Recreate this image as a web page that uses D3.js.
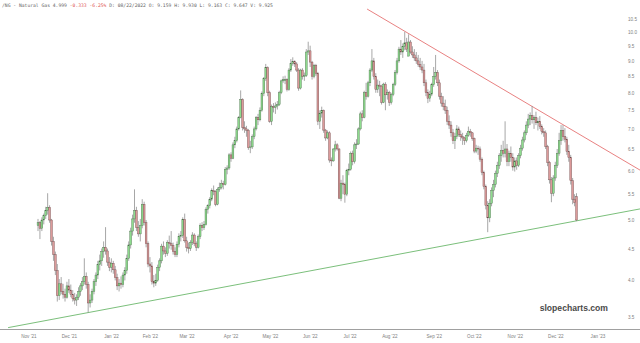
<!DOCTYPE html>
<html>
<head>
<meta charset="utf-8">
<script src="https://cdn.jsdelivr.net/npm/d3@7"></script>
<style>
  html, body { margin: 0; padding: 0; background: #fff; }
  svg { display: block; }
</style>
</head>
<body>
<script>
// daily OHLC, /NG continuous, mid Nov 2021 .. Dec 2022 (one row per month)
const open = [
  4.90,4.95,4.85,5.00,5.08,5.18,5.24,5.00,4.62,4.40,4.15,
  3.78,3.95,3.84,3.80,3.76,3.92,3.86,3.80,3.74,3.72,3.76,3.84,3.92,3.98,4.06,3.94,3.68,3.72,3.84,3.98,4.08,4.24,
  4.30,4.45,4.52,4.46,4.28,4.20,4.26,4.16,4.04,3.92,3.96,3.94,4.08,4.15,4.34,4.56,4.80,5.02,5.18,4.86,
  4.75,4.90,5.30,4.95,4.58,4.25,4.22,3.98,3.96,4.00,4.20,4.30,4.54,4.46,4.42,4.60,4.58,4.55,4.45,
  4.40,4.57,4.71,4.72,5.01,4.63,4.52,4.50,4.60,4.73,4.58,4.52,4.70,4.90,4.86,4.92,5.20,5.27,5.40,5.57,5.55,5.30,5.60,
  5.64,5.72,5.70,6.03,6.06,6.36,6.28,6.60,6.70,7.00,7.30,7.80,7.04,7.00,6.96,6.53,6.55,6.80,7.00,7.30,
  7.24,7.50,7.98,8.43,8.78,8.00,7.20,7.60,7.58,7.62,7.66,8.00,8.36,8.40,8.40,8.10,8.70,8.92,8.97,8.90,8.70,
  8.14,8.70,8.50,8.52,9.30,9.34,8.96,8.50,8.85,8.60,7.20,7.42,7.50,6.97,6.77,6.90,6.24,6.22,6.50,6.60,6.50,
  5.42,5.73,5.70,5.50,6.00,6.03,6.40,6.20,6.60,6.62,7.00,7.40,7.30,8.00,7.90,8.30,8.70,9.00,8.50,8.10,
  8.23,8.20,7.72,8.26,7.94,8.00,7.72,7.95,8.25,8.62,9.00,9.40,9.30,9.50,9.62,9.16,9.65,9.30,9.20,9.10,9.00,8.88,8.80,
  8.70,8.30,8.00,7.84,7.96,8.24,8.50,8.62,8.30,7.90,7.70,7.60,7.50,7.20,7.10,6.90,6.70,6.80,7.00,6.86,6.80,
  6.77,6.70,6.84,6.94,6.90,6.75,6.45,6.52,6.50,6.26,5.96,5.66,5.28,5.04,5.32,5.58,5.70,5.94,6.12,6.34,6.46,
  6.40,6.50,6.20,6.40,6.30,6.08,6.22,6.12,6.34,6.52,6.72,6.90,7.10,7.26,7.36,7.24,7.30,7.16,7.20,7.06,6.94,
  6.90,6.56,6.18,5.80,5.52,5.84,6.12,6.40,6.70,6.96,6.80,6.74,6.44,6.30,5.78,5.40,5.45
];
const high = [
  5.02,4.98,5.05,5.12,5.25,5.52,5.28,5.02,4.70,4.45,4.25,
  4.02,4.05,3.95,3.88,3.98,4.02,3.94,3.86,3.82,3.80,3.90,3.96,4.05,4.34,4.12,3.98,3.80,3.88,4.02,4.12,4.30,4.40,
  4.50,4.62,4.87,4.50,4.36,4.34,4.30,4.22,4.10,4.02,4.06,4.12,4.20,4.40,4.62,4.86,5.10,5.60,5.25,4.98,
  5.02,5.40,5.35,5.00,4.62,4.36,4.28,4.08,4.10,4.24,4.34,4.58,4.62,4.52,4.64,4.72,4.80,4.60,4.52,
  4.62,4.76,4.80,5.05,5.12,4.70,4.60,4.64,4.78,4.76,4.62,4.74,4.94,4.96,4.98,5.24,5.30,5.44,5.62,5.68,5.58,5.64,5.74,
  5.80,5.78,6.08,6.12,6.40,6.42,6.66,6.80,7.06,7.34,8.07,7.84,7.20,7.08,7.00,6.70,6.86,7.06,7.34,7.40,
  7.58,8.04,8.48,8.90,8.82,8.06,7.66,7.70,7.72,7.76,8.06,8.40,8.50,8.52,8.44,8.76,9.06,9.12,9.02,8.96,8.76,
  8.74,8.76,8.62,9.40,9.66,9.52,9.00,8.90,8.90,8.64,7.50,7.60,7.52,7.00,6.96,6.94,6.30,6.52,6.70,6.64,6.52,
  5.80,5.90,5.74,6.04,6.16,6.44,6.46,6.66,6.74,7.04,7.46,7.50,8.06,8.30,8.36,8.76,9.40,9.10,8.60,8.40,
  8.36,8.24,8.30,8.32,8.10,8.06,8.00,8.30,8.70,9.10,9.48,9.72,9.60,10.02,9.80,9.93,9.72,9.50,9.40,9.30,9.20,9.10,9.00,
  8.90,8.40,8.10,8.06,8.30,8.80,9.20,8.70,8.40,8.00,7.90,7.80,7.60,7.36,7.20,7.00,6.90,7.10,7.06,6.96,6.90,
  6.80,6.90,7.06,7.00,6.92,6.78,6.60,6.58,6.56,6.30,6.00,5.70,5.36,5.40,5.64,5.80,6.00,6.20,6.40,6.60,6.70,
  7.20,6.62,6.46,6.56,6.40,6.30,6.30,6.40,6.60,6.80,6.96,7.20,7.40,7.44,7.62,7.36,7.46,7.30,7.34,7.12,7.02,
  6.96,6.60,6.22,5.86,5.90,6.20,6.50,6.90,7.10,7.10,7.02,6.80,6.60,6.36,5.84,5.50,5.52
];
const low = [
  4.80,4.66,4.80,4.92,5.02,5.10,4.95,4.55,4.30,4.08,3.70,
  3.72,3.80,3.74,3.70,3.74,3.82,3.76,3.70,3.66,3.64,3.72,3.78,3.86,3.94,3.88,3.55,3.62,3.68,3.80,3.92,4.02,4.15,
  4.22,4.35,4.40,4.22,4.14,4.12,4.10,4.00,3.86,3.84,3.88,3.90,4.00,4.10,4.30,4.50,4.72,4.95,4.80,4.70,
  4.62,4.85,4.90,4.52,4.20,4.12,3.94,3.90,3.92,3.98,4.14,4.26,4.40,4.36,4.38,4.50,4.48,4.40,4.36,
  4.36,4.52,4.62,4.68,4.60,4.45,4.42,4.46,4.56,4.54,4.46,4.50,4.66,4.80,4.82,4.90,5.12,5.22,5.36,5.48,5.26,5.28,5.55,
  5.60,5.60,5.68,5.92,6.02,6.20,6.26,6.52,6.66,6.96,7.28,6.96,6.90,6.80,6.48,6.40,6.50,6.74,6.96,7.10,
  7.20,7.46,7.90,8.36,7.90,7.16,7.10,7.44,7.40,7.52,7.62,7.96,8.30,8.26,8.04,8.06,8.64,8.84,8.80,8.64,8.06,
  8.10,8.40,8.36,8.48,9.20,8.80,8.40,8.44,8.52,7.10,7.00,7.30,6.90,6.70,6.74,6.18,6.10,6.20,6.44,6.46,5.40,
  5.36,5.50,5.33,5.46,5.90,6.00,6.12,6.16,6.50,6.60,6.96,7.20,7.28,7.80,7.86,8.20,8.64,8.40,8.00,8.00,
  7.90,7.66,7.70,7.50,7.80,7.62,7.66,7.90,8.20,8.56,8.94,9.20,9.10,9.36,9.30,9.16,9.24,9.10,9.00,8.90,8.80,8.70,8.60,
  8.20,7.90,7.70,7.74,7.90,8.18,8.40,8.20,7.80,7.60,7.50,7.40,7.10,7.00,6.80,6.62,6.50,6.74,6.80,6.70,6.60,
  6.60,6.66,6.80,6.80,6.70,6.40,6.40,6.36,6.20,5.90,5.60,5.20,4.78,4.96,5.26,5.44,5.64,5.86,6.04,6.20,6.30,
  6.30,6.10,6.10,6.20,6.00,5.98,6.02,6.08,6.28,6.46,6.66,6.84,7.02,7.10,7.14,7.00,7.10,6.96,7.00,6.86,6.80,
  6.50,6.10,5.72,5.34,5.46,5.78,6.06,6.34,6.60,6.70,6.66,6.36,6.20,5.70,5.30,5.26,4.98
];
const close = [
  4.95,4.85,5.00,5.08,5.18,5.24,5.00,4.62,4.40,4.15,3.78,
  3.95,3.84,3.80,3.76,3.92,3.86,3.80,3.74,3.72,3.76,3.84,3.92,3.98,4.06,3.94,3.68,3.72,3.84,3.98,4.08,4.24,4.30,
  4.45,4.52,4.46,4.28,4.20,4.26,4.16,4.04,3.92,3.96,3.94,4.08,4.15,4.34,4.56,4.80,5.02,5.18,4.86,4.75,
  4.90,5.30,4.95,4.58,4.25,4.22,3.98,3.96,4.00,4.20,4.30,4.54,4.46,4.42,4.60,4.58,4.55,4.45,4.40,
  4.57,4.71,4.72,5.01,4.63,4.52,4.50,4.60,4.73,4.58,4.52,4.70,4.90,4.86,4.92,5.20,5.27,5.40,5.57,5.55,5.30,5.60,5.64,
  5.72,5.70,6.03,6.06,6.36,6.28,6.60,6.70,7.00,7.30,7.80,7.04,7.00,6.96,6.53,6.55,6.80,7.00,7.30,7.24,
  7.50,7.98,8.43,8.78,8.00,7.20,7.60,7.58,7.62,7.66,8.00,8.36,8.40,8.40,8.10,8.70,8.92,8.97,8.90,8.70,8.14,
  8.70,8.50,8.52,9.30,9.34,8.96,8.50,8.85,8.60,7.20,7.42,7.50,6.97,6.77,6.90,6.24,6.22,6.50,6.60,6.50,5.42,
  5.73,5.70,5.50,6.00,6.03,6.40,6.20,6.60,6.62,7.00,7.40,7.30,8.00,7.90,8.30,8.70,9.00,8.50,8.10,8.23,
  8.20,7.72,8.26,7.94,8.00,7.72,7.95,8.25,8.62,9.00,9.40,9.30,9.50,9.62,9.40,9.65,9.30,9.20,9.10,9.00,8.88,8.80,8.70,
  8.30,8.00,7.84,7.96,8.24,8.50,8.62,8.30,7.90,7.70,7.60,7.50,7.20,7.10,6.90,6.70,6.80,7.00,6.86,6.80,6.77,
  6.70,6.84,6.94,6.90,6.75,6.45,6.52,6.50,6.26,5.96,5.66,5.28,5.04,5.32,5.58,5.70,5.94,6.12,6.34,6.46,6.40,
  6.50,6.20,6.40,6.30,6.08,6.22,6.12,6.34,6.52,6.72,6.90,7.10,7.26,7.36,7.24,7.30,7.16,7.20,7.06,6.94,6.90,
  6.56,6.18,5.80,5.52,5.84,6.12,6.40,6.70,6.96,6.80,6.74,6.44,6.30,5.78,5.40,5.33,5.00
];

// x axis: bar index of the first session of each month
const monthBar = [-10, 11, 33, 53, 72, 95, 115, 136, 157, 177, 200, 221, 242, 263, 285];
const monthLabels = ["Nov '21", "Dec '21", "Jan '22", "Feb '22", "Mar '22", "Apr '22", "May '22", "Jun '22",
                     "Jul '22", "Aug '22", "Sep '22", "Oct '22", "Nov '22", "Dec '22", "Jan '23"];
const priceTicks = [3.5, 4.0, 4.5, 5.0, 5.5, 6.0, 6.5, 7.0, 7.5, 8.0, 8.5, 9.0, 9.5, 10.0, 10.5];

// trend lines as [bar index, price]
const resistance = [[170.5, 10.9], [312, 6.01]];
const support = [[-15.5, 3.36], [312, 5.21]];

const title = { name: '/NG - Natural Gas', last: '4.999', change: '-0.333  -6.25%',
  info: 'D: 08/22/2022  O: 9.159  H: 9.930  L: 9.163  C: 9.647  V: 9.925' };

const width = 640, height = 343;
const svg = d3.select('body').append('svg').attr('width', width).attr('height', height);

const x = d3.scaleLinear().domain([0, close.length - 1]).range([38, 576.5]);
const y = d3.scaleLog().domain([3.343, 11.27]).range([329, 0]);

const bars = close.map((c, i) => ({ i, o: open[i], h: high[i], l: low[i], c }));

// right price axis
const yAxis = svg.append('g').attr('transform', 'translate(627,0)')
  .call(d3.axisRight(y).tickValues(priceTicks).tickFormat(d3.format('.1f')).tickSize(0).tickPadding(1));
yAxis.select('.domain').remove();
yAxis.selectAll('text').style('font', '4.6px "Liberation Sans", Arial, sans-serif').attr('fill', '#808080');

// bottom time axis
svg.append('line').attr('x1', 0).attr('x2', width).attr('y1', 329.5).attr('y2', 329.5)
  .attr('stroke', '#a0a0a0').attr('stroke-width', 1);
const xAxis = svg.append('g').attr('transform', 'translate(0,329.5)')
  .call(d3.axisBottom(x).tickValues(monthBar).tickFormat((d, i) => monthLabels[i]).tickSize(0).tickPadding(5));
xAxis.select('.domain').remove();
xAxis.selectAll('text').attr('text-anchor', 'start').attr('dx', 2)
  .style('font', '4.6px "Liberation Sans", Arial, sans-serif').attr('fill', '#808080');

// watermark
svg.append('text').attr('x', 608).attr('y', 311).attr('text-anchor', 'end')
  .style('font', 'bold 8.6px "Liberation Sans", Arial, sans-serif').attr('fill', '#4a4a4a')
  .text('slopecharts.com');

// trend lines
const line = d3.line().x(d => x(d[0])).y(d => y(d[1]));
svg.append('path').datum(support).attr('d', line).attr('fill', 'none')
  .attr('stroke', '#6cb86c').attr('stroke-width', 0.9);
svg.append('path').datum(resistance).attr('d', line).attr('fill', 'none')
  .attr('stroke', '#e57373').attr('stroke-width', 0.9);

// candles
const candle = svg.append('g').selectAll('g').data(bars).enter().append('g');
candle.append('line')
  .attr('x1', d => x(d.i)).attr('x2', d => x(d.i))
  .attr('y1', d => y(d.h)).attr('y2', d => y(d.l))
  .attr('stroke', '#909090').attr('stroke-width', 0.8);
candle.append('rect')
  .attr('x', d => x(d.i) - 0.9).attr('width', 1.8)
  .attr('y', d => y(Math.max(d.o, d.c)))
  .attr('height', d => Math.max(0.8, Math.abs(y(d.o) - y(d.c))))
  .attr('fill', d => d.c >= d.o ? '#8edc8e' : '#dc9a9a')
  .attr('stroke', d => d.c >= d.o ? '#4a704a' : '#704a4a')
  .attr('stroke-width', 0.4);

// header line
const head = svg.append('text').attr('x', 2).attr('y', 6.5)
  .style('font', '4.7px "DejaVu Sans Mono", monospace').attr('fill', '#666');
head.append('tspan').text(title.name + ' ' + title.last + '  ');
head.append('tspan').attr('fill', '#e05555').text(title.change);
head.append('tspan').text('  ' + title.info);
</script>
</body>
</html>
